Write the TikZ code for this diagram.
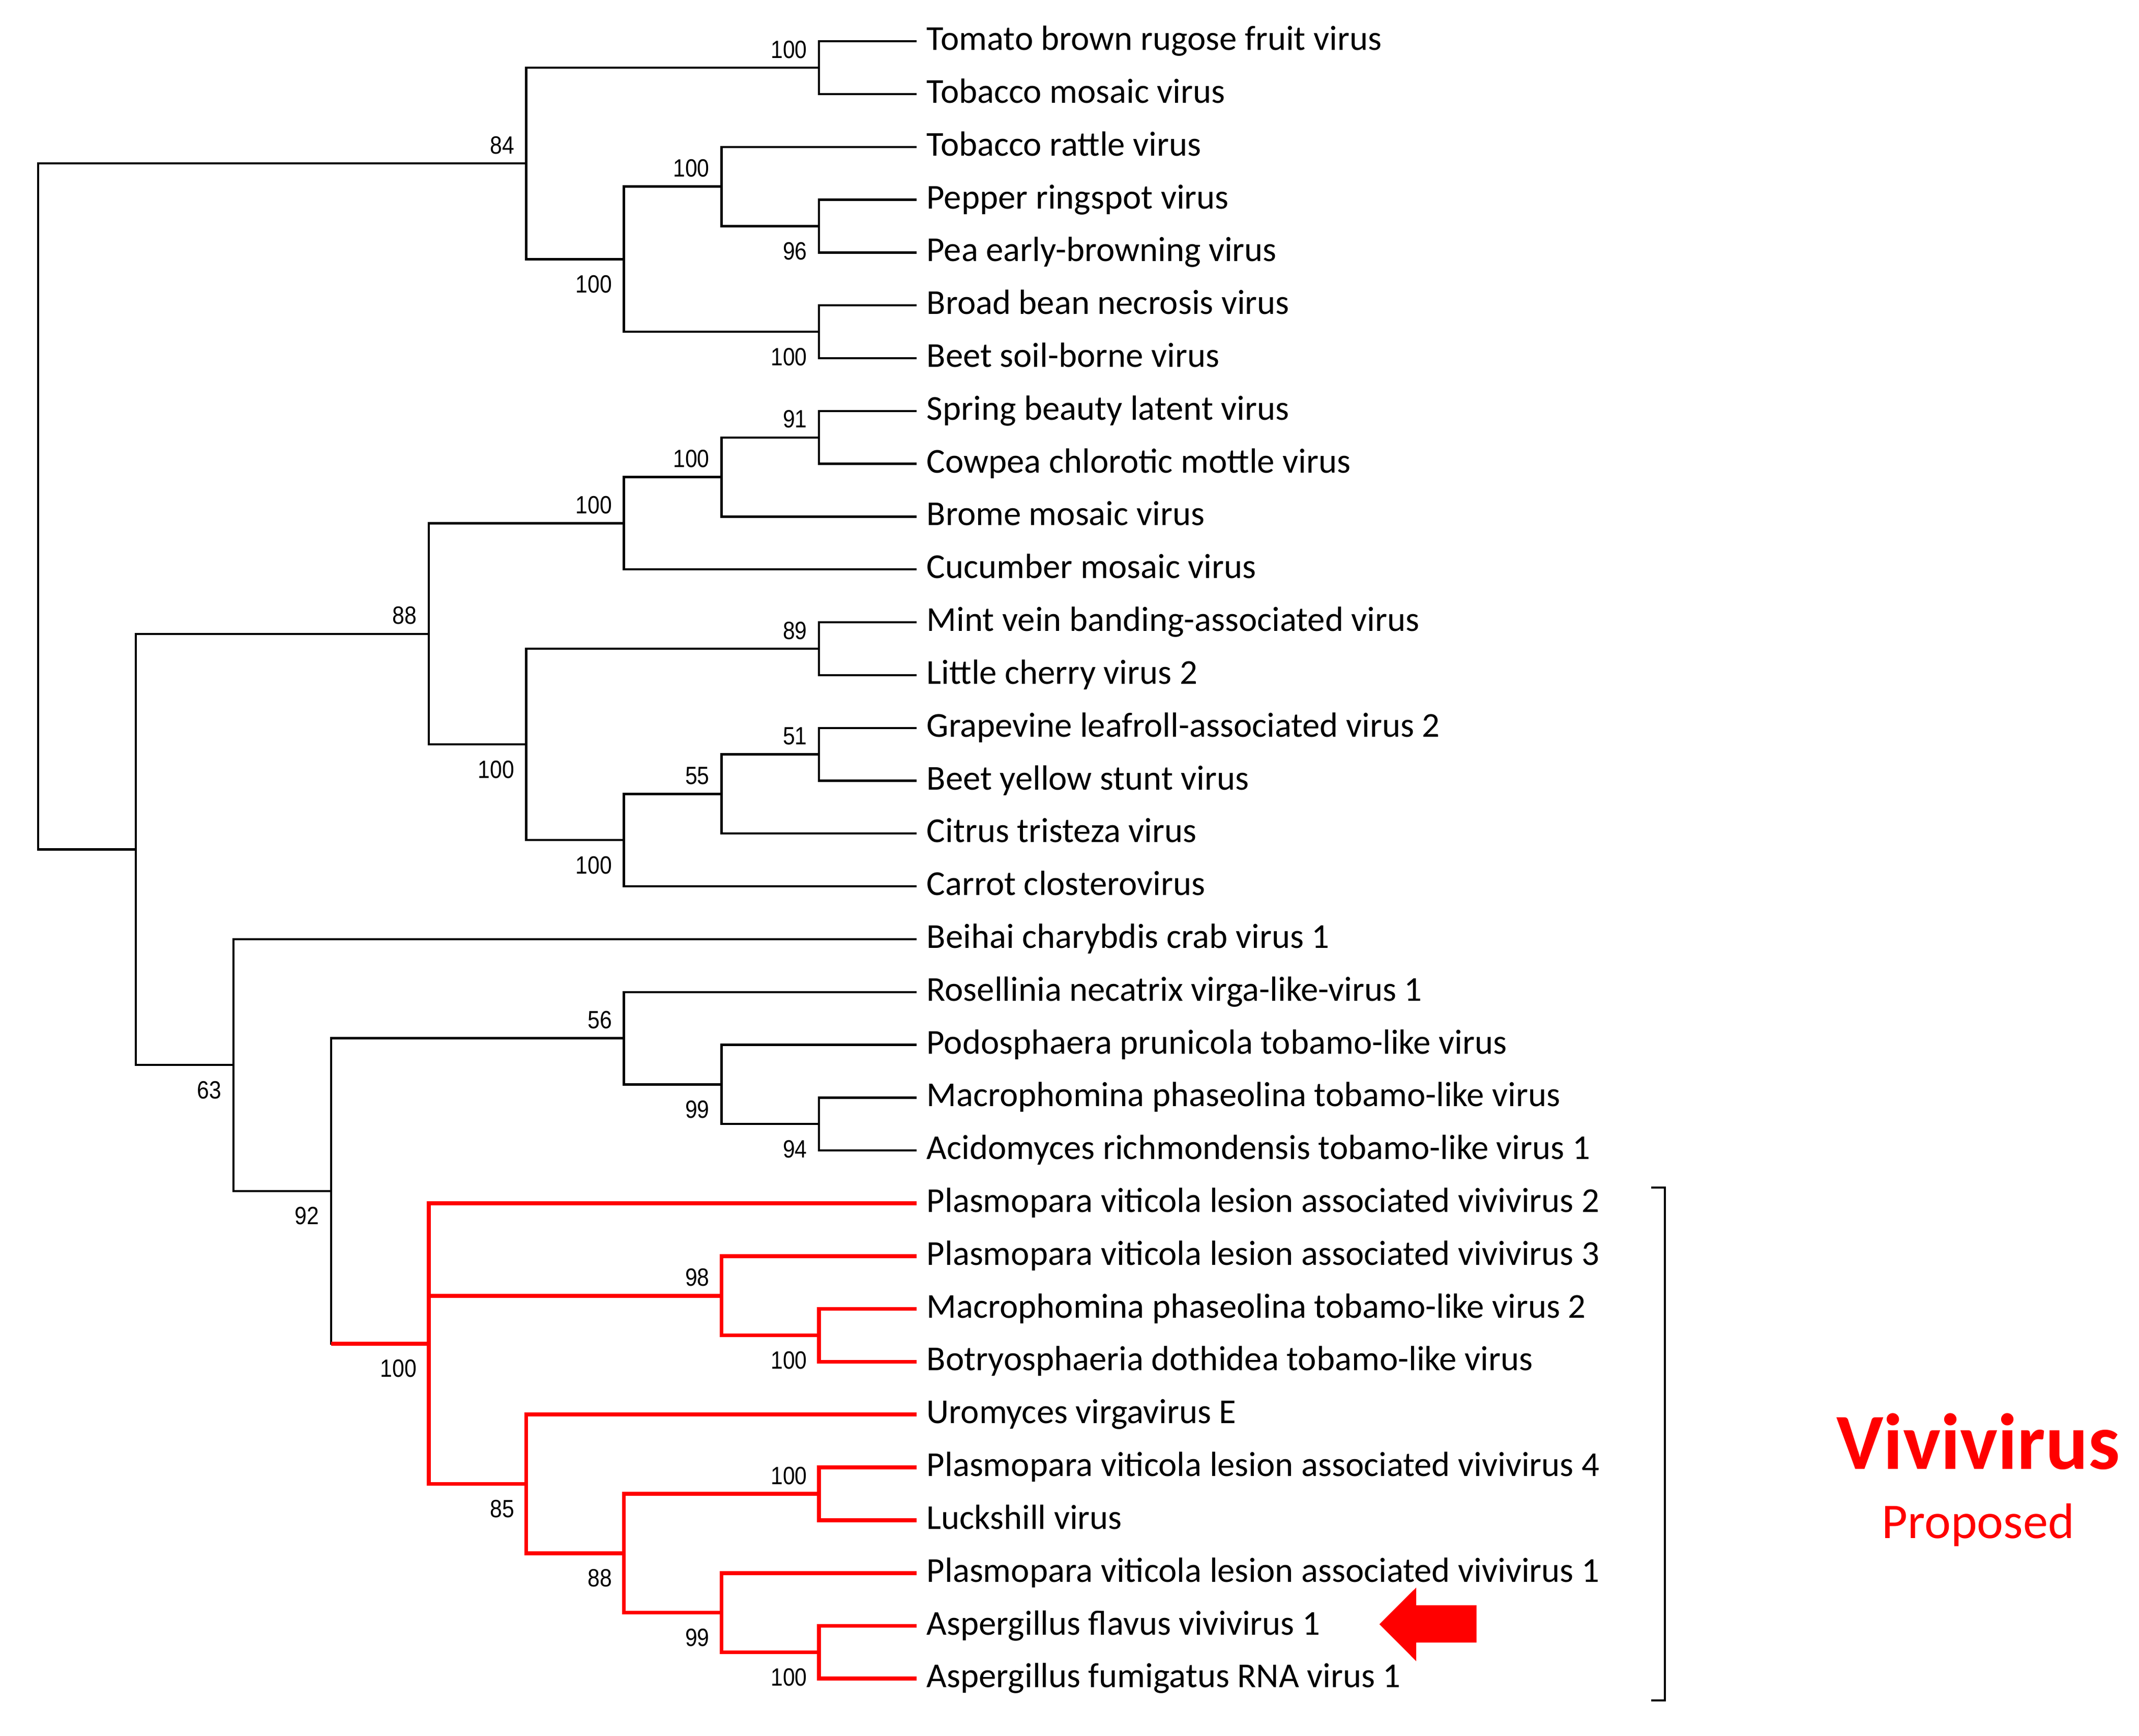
\documentclass[tikz,border=0pt]{standalone}
\usepackage{fontspec}
\setmainfont{Carlito}
\newfontfamily\bootfont[FakeStretch=0.87]{Liberation Sans}
\begin{document}
\begin{tikzpicture}[x=1pt, y=-1pt, line width=1.6pt,
  leaf/.style = {anchor=west, inner xsep=6.5pt, inner ysep=0pt, text height=16.4pt, text depth=3.4pt, font=\fontsize{25.5}{30}\selectfont},
  boot/.style = {inner sep=0pt, font=\bootfont\fontsize{18.2}{20}\selectfont},
  bup/.style = {boot, anchor=base east, xshift=-8pt, yshift=7pt},
  bdn/.style = {boot, anchor=north east, xshift=-8pt, yshift=-11pt},
  viv/.style = {red, line width=2.85pt}]

	\useasboundingbox (0,0) rectangle (1560.3,1265.7);

	% leaves
	\node[leaf] (ToBRFV) at (668.7,30.10) {Tomato brown rugose fruit virus};
	\node[leaf] (TMV) at (668.7,68.62) {Tobacco mosaic virus};
	\node[leaf] (TRV) at (668.7,107.14) {Tobacco rattle virus};
	\node[leaf] (PepRSV) at (668.7,145.66) {Pepper ringspot virus};
	\node[leaf] (PEBV) at (668.7,184.18) {Pea early-browning virus};
	\node[leaf] (BBNV) at (668.7,222.70) {Broad bean necrosis virus};
	\node[leaf] (BSBV) at (668.7,261.22) {Beet soil-borne virus};
	\node[leaf] (SBLV) at (668.7,299.74) {Spring beauty latent virus};
	\node[leaf] (CCMV) at (668.7,338.26) {Cowpea chlorotic mottle virus};
	\node[leaf] (BMV) at (668.7,376.78) {Brome mosaic virus};
	\node[leaf] (CMV) at (668.7,415.30) {Cucumber mosaic virus};
	\node[leaf] (MVBaV) at (668.7,453.82) {Mint vein banding-associated virus};
	\node[leaf] (LChV2) at (668.7,492.34) {Little cherry virus 2};
	\node[leaf] (GLRaV2) at (668.7,530.86) {Grapevine leafroll-associated virus 2};
	\node[leaf] (BYSV) at (668.7,569.38) {Beet yellow stunt virus};
	\node[leaf] (CTV) at (668.7,607.90) {Citrus tristeza virus};
	\node[leaf] (CaCV) at (668.7,646.42) {Carrot closterovirus};
	\node[leaf] (BCCV1) at (668.7,684.94) {Beihai charybdis crab virus 1};
	\node[leaf] (RnVLV1) at (668.7,723.46) {Rosellinia necatrix virga-like-virus 1};
	\node[leaf] (PpTLV) at (668.7,761.98) {Podosphaera prunicola tobamo-like virus};
	\node[leaf] (MpTLV) at (668.7,800.50) {Macrophomina phaseolina tobamo-like virus};
	\node[leaf] (ArTLV1) at (668.7,839.02) {Acidomyces richmondensis tobamo-like virus 1};
	\node[leaf] (PvLaVV2) at (668.7,877.54) {Plasmopara viticola lesion associated vivivirus 2};
	\node[leaf] (PvLaVV3) at (668.7,916.06) {Plasmopara viticola lesion associated vivivirus 3};
	\node[leaf] (MpTLV2) at (668.7,954.58) {Macrophomina phaseolina tobamo-like virus 2};
	\node[leaf] (BdTLV) at (668.7,993.10) {Botryosphaeria dothidea tobamo-like virus};
	\node[leaf] (UVE) at (668.7,1031.62) {Uromyces virgavirus E};
	\node[leaf] (PvLaVV4) at (668.7,1070.14) {Plasmopara viticola lesion associated vivivirus 4};
	\node[leaf] (LuV) at (668.7,1108.66) {Luckshill virus};
	\node[leaf] (PvLaVV1) at (668.7,1147.18) {Plasmopara viticola lesion associated vivivirus 1};
	\node[leaf] (AfVV1) at (668.7,1185.70) {Aspergillus flavus vivivirus 1};
	\node[leaf] (AfRV1) at (668.7,1224.22) {Aspergillus fumigatus RNA virus 1};

	% inner nodes
	\coordinate (root) at (27.9,369.34);
	\coordinate (A) at (383.9,119.18);
	\coordinate (A1) at (597.5,49.36);
	\coordinate (A2) at (455.1,189.0);
	\coordinate (A2a) at (526.3,136.03);
	\coordinate (A2a1) at (597.5,164.92);
	\coordinate (A2b) at (597.5,241.96);
	\coordinate (B) at (99.1,619.49);
	\coordinate (B1) at (312.7,462.25);
	\coordinate (B1a) at (455.1,381.6);
	\coordinate (B1a1) at (526.3,347.89);
	\coordinate (B1a1a) at (597.5,319.0);
	\coordinate (B1b) at (383.9,542.9);
	\coordinate (B1b1) at (597.5,473.08);
	\coordinate (B1b2) at (455.1,612.72);
	\coordinate (B1b2a) at (526.3,579.01);
	\coordinate (B1b2a1) at (597.5,550.12);
	\coordinate (B2) at (170.3,776.73);
	\coordinate (B2b) at (241.5,868.52);
	\coordinate (B2b1) at (455.1,757.17);
	\coordinate (B2b1b) at (526.3,790.87);
	\coordinate (B2b1b2) at (597.5,819.76);
	\coordinate (C) at (312.7,979.86);
	\coordinate (C2) at (526.3,944.95);
	\coordinate (C2b) at (597.5,973.84);
	\coordinate (C3) at (383.9,1082.18);
	\coordinate (C3b) at (455.1,1132.74);
	\coordinate (C3b1) at (597.5,1089.4);
	\coordinate (C3b2) at (526.3,1176.07);
	\coordinate (C3b2b) at (597.5,1204.96);

	% branches
	\draw (root) |- (A);
	\draw (root) |- (B);
	\draw (A) |- (A1);
	\draw (A) |- (A2);
	\draw (A1) |- (ToBRFV.west);
	\draw (A1) |- (TMV.west);
	\draw (A2) |- (A2a);
	\draw (A2) |- (A2b);
	\draw (A2a) |- (TRV.west);
	\draw (A2a) |- (A2a1);
	\draw (A2a1) |- (PepRSV.west);
	\draw (A2a1) |- (PEBV.west);
	\draw (A2b) |- (BBNV.west);
	\draw (A2b) |- (BSBV.west);
	\draw (B) |- (B1);
	\draw (B) |- (B2);
	\draw (B1) |- (B1a);
	\draw (B1) |- (B1b);
	\draw (B1a) |- (B1a1);
	\draw (B1a) |- (CMV.west);
	\draw (B1a1) |- (B1a1a);
	\draw (B1a1) |- (BMV.west);
	\draw (B1a1a) |- (SBLV.west);
	\draw (B1a1a) |- (CCMV.west);
	\draw (B1b) |- (B1b1);
	\draw (B1b) |- (B1b2);
	\draw (B1b1) |- (MVBaV.west);
	\draw (B1b1) |- (LChV2.west);
	\draw (B1b2) |- (B1b2a);
	\draw (B1b2) |- (CaCV.west);
	\draw (B1b2a) |- (B1b2a1);
	\draw (B1b2a) |- (CTV.west);
	\draw (B1b2a1) |- (GLRaV2.west);
	\draw (B1b2a1) |- (BYSV.west);
	\draw (B2) |- (BCCV1.west);
	\draw (B2) |- (B2b);
	\draw (B2b) |- (B2b1);
	\draw (B2b) |- (C);
	\draw (B2b1) |- (RnVLV1.west);
	\draw (B2b1) |- (B2b1b);
	\draw (B2b1b) |- (PpTLV.west);
	\draw (B2b1b) |- (B2b1b2);
	\draw (B2b1b2) |- (MpTLV.west);
	\draw (B2b1b2) |- (ArTLV1.west);

	% vivivirus clade
	\draw[viv] (B2b |- C) -- (C);
	\draw[viv] (C) |- (PvLaVV2.west);
	\draw[viv] (C) |- (C2);
	\draw[viv] (C) |- (C3);
	\draw[viv] (C2) |- (PvLaVV3.west);
	\draw[viv] (C2) |- (C2b);
	\draw[viv] (C2b) |- (MpTLV2.west);
	\draw[viv] (C2b) |- (BdTLV.west);
	\draw[viv] (C3) |- (UVE.west);
	\draw[viv] (C3) |- (C3b);
	\draw[viv] (C3b) |- (C3b1);
	\draw[viv] (C3b) |- (C3b2);
	\draw[viv] (C3b1) |- (PvLaVV4.west);
	\draw[viv] (C3b1) |- (LuV.west);
	\draw[viv] (C3b2) |- (PvLaVV1.west);
	\draw[viv] (C3b2) |- (C3b2b);
	\draw[viv] (C3b2b) |- (AfVV1.west);
	\draw[viv] (C3b2b) |- (AfRV1.west);

	% bootstrap values
	\node[bup] (bA) at (A) {84};
	\node[bup] (bA1) at (A1) {100};
	\node[bdn] (bA2) at (A2) {100};
	\node[bup] (bA2a) at (A2a) {100};
	\node[bdn] (bA2a1) at (A2a1) {96};
	\node[bdn] (bA2b) at (A2b) {100};
	\node[bup] (bB1) at (B1) {88};
	\node[bup] (bB1a) at (B1a) {100};
	\node[bup] (bB1a1) at (B1a1) {100};
	\node[bup] (bB1a1a) at (B1a1a) {91};
	\node[bdn] (bB1b) at (B1b) {100};
	\node[bup] (bB1b1) at (B1b1) {89};
	\node[bdn] (bB1b2) at (B1b2) {100};
	\node[bup] (bB1b2a) at (B1b2a) {55};
	\node[bup] (bB1b2a1) at (B1b2a1) {51};
	\node[bdn] (bB2) at (B2) {63};
	\node[bdn] (bB2b) at (B2b) {92};
	\node[bup] (bB2b1) at (B2b1) {56};
	\node[bdn] (bB2b1b) at (B2b1b) {99};
	\node[bdn] (bB2b1b2) at (B2b1b2) {94};
	\node[bdn] (bC) at (C) {100};
	\node[bup] (bC2) at (C2) {98};
	\node[bdn] (bC2b) at (C2b) {100};
	\node[bdn] (bC3) at (C3) {85};
	\node[bdn] (bC3b) at (C3b) {88};
	\node[bup] (bC3b1) at (C3b1) {100};
	\node[bdn] (bC3b2) at (C3b2) {99};
	\node[bdn] (bC3b2b) at (C3b2b) {100};

	% bracket, name and arrow
	\coordinate (brT) at (1214.5,866);
	\coordinate (brB) at (1214.5,1240);
	\draw[line width=1.3pt] ([xshift=-10pt]brT) -- (brT) -- (brB) -- ([xshift=-10pt]brB);
	\node[red, anchor=base, font=\bfseries\fontsize{58}{60}\selectfont] (vivi) at (1443,1071.6) {Vivivirus};
	\node[red, anchor=base, font=\fontsize{36.5}{40}\selectfont] (prop) at (1443,1121.7) {Proposed};
	\fill[red] (1006.2,1184.5) -- (1033.1,1157.7) -- (1033.1,1170.7) -- (1077,1170.7) -- (1077,1197.9) -- (1033.1,1197.9) -- (1033.1,1211.5) -- cycle;
\end{tikzpicture}
\end{document}
